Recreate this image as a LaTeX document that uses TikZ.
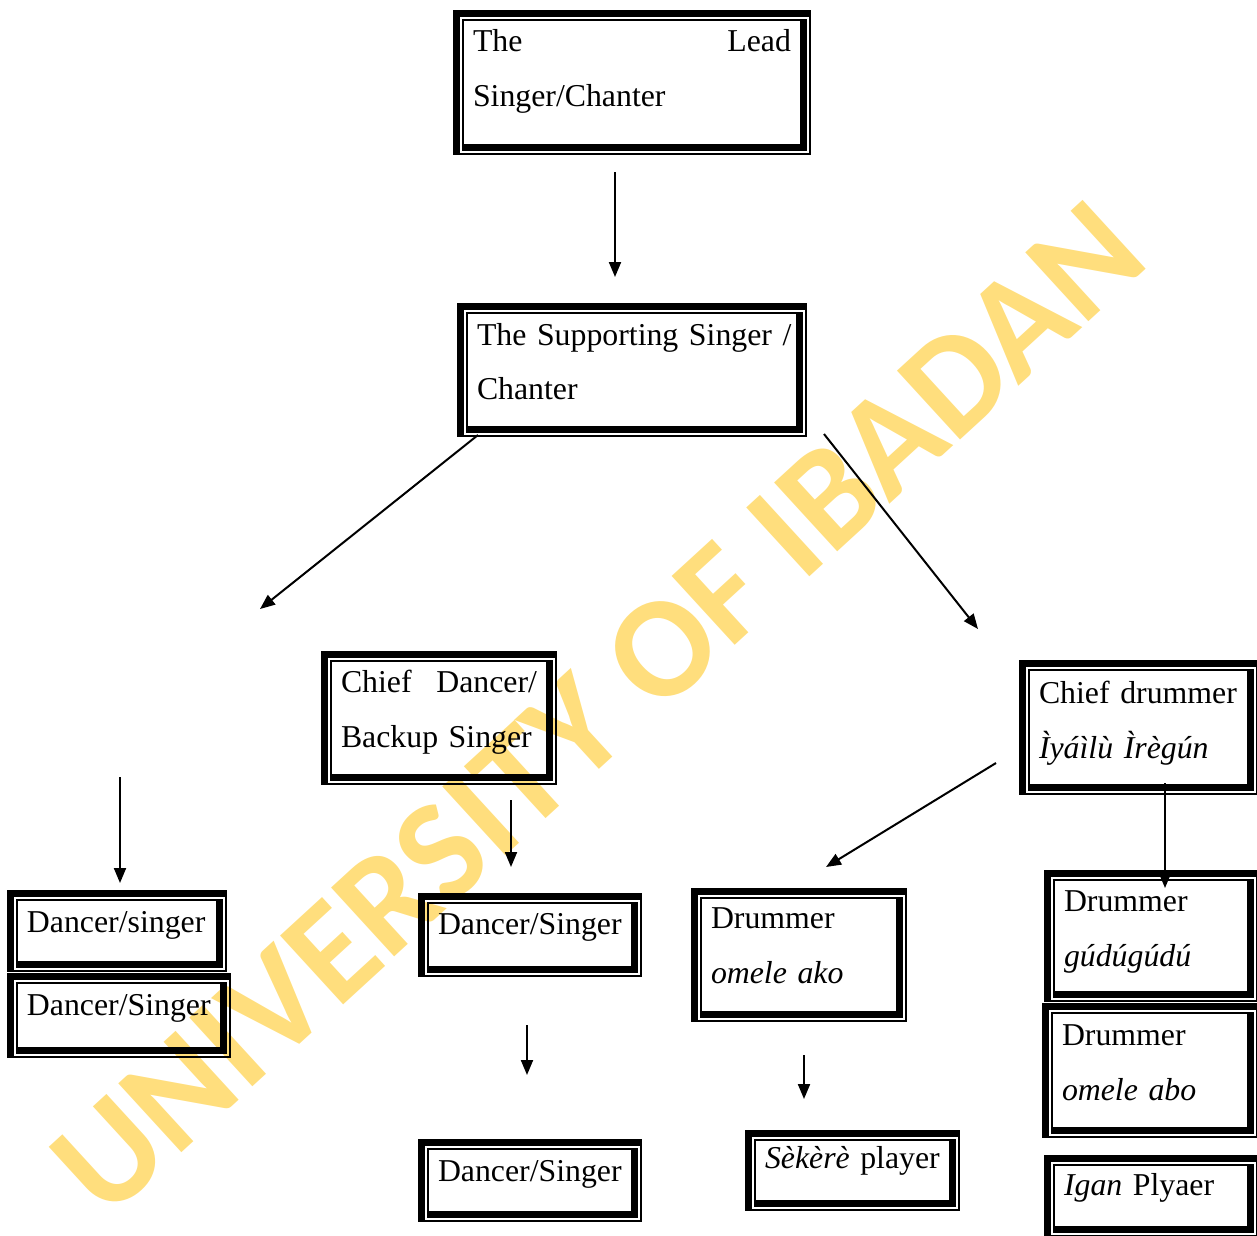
\documentclass[tikz,border=0pt]{standalone}
\usepackage{fontspec}
\setmainfont{Liberation Serif}
\newfontfamily\markfont{Carlito}
\usetikzlibrary{arrows.meta}
\definecolor{markyellow}{RGB}{255,222,125}

\begin{document}
\begin{tikzpicture}[x=0.02cm,y=-0.02cm,
  role/.style={anchor=north west,inner xsep=0.4cm,inner ysep=0pt,outer sep=0pt,
    align=left,font=\fontsize{18.1}{31.3}\selectfont},
  arr/.style={line width=0.04cm,-{Triangle[length=0.3cm,width=0.24cm]}}]
  \useasboundingbox (0,0) rectangle (1257,1235);
  % watermark
  \node[rotate=42.5,text=markyellow,font=\markfont\bfseries\fontsize{82}{82}\selectfont] (mark) at (598,708) {UNIVERSITY OF IBADAN};
  % singers
  \node[role,text width=6.36cm,text height=0.84cm,text depth=2.06cm] (lead) at (453,10) {The \hfill Lead\\Singer/Chanter};
  \node[role,text width=6.2cm,text height=0.84cm,text depth=1.84cm] (support) at (457,303) {\mbox{The Supporting Singer /}\\Chanter};
  % dancers
  \node[role,text width=3.92cm,text height=0.82cm,text depth=1.86cm] (chiefdancer) at (321,651) {Chief \hfill Dancer/\\Backup Singer};
  \node[role,text width=3.6cm,text height=0.84cm,text depth=0.8cm] (dancerA) at (7,890) {Dancer/singer};
  \node[role,text width=3.68cm,text height=0.84cm,text depth=0.86cm] (dancerB) at (7,973) {Dancer/Singer};
  \node[role,text width=3.68cm,text height=0.82cm,text depth=0.86cm] (dancerC) at (418,893) {Dancer/Singer};
  \node[role,text width=3.68cm,text height=0.84cm,text depth=0.82cm] (dancerD) at (418,1139) {Dancer/Singer};
  % drummers
  \node[role,text width=3.98cm,text height=0.86cm,text depth=1.84cm] (chiefdrum) at (1019,660) {Chief drummer\\\textit{Ìyáìlù Ìrègún}};
  \node[role,text width=3.52cm,text height=0.8cm,text depth=1.88cm] (omeleako) at (691,888) {Drummer\\\textit{omele ako}};
  \node[role,text width=3.48cm,text height=0.82cm,text depth=1.82cm] (gudugudu) at (1044,870) {Drummer\\\textit{gúdúgúdú}};
  \node[role,text width=3.52cm,text height=0.84cm,text depth=1.86cm] (omeleabo) at (1042,1003) {Drummer\\\textit{omele abo}};
  \node[role,text width=3.5cm,text height=0.76cm,text depth=0.86cm] (sekere) at (745,1130) {\textit{Sèkèrè} player};
  \node[role,text width=3.48cm,text height=0.8cm,text depth=0.84cm] (igan) at (1044,1155) {\textit{Igan} Plyaer};
  % thick-thin frames
  \foreach \n in {lead,support,chiefdancer,dancerA,dancerB,dancerC,dancerD,chiefdrum,omeleako,gudugudu,omeleabo,sekere,igan}{
    \draw[line width=0.034cm] ([shift={(0.85,0.85)}]\n.north west) rectangle ([shift={(-0.85,-0.85)}]\n.south east);
    \fill (\n.north west) rectangle ([shift={(0,7)}]\n.north east);
    \fill (\n.north west) rectangle ([shift={(7,0)}]\n.south west);
    \draw[line width=0.034cm] ([shift={(9.85,9.85)}]\n.north west) rectangle ([shift={(-4.55,-4.55)}]\n.south east);
    \fill ([shift={(9,-3.7)}]\n.south west) rectangle ([shift={(-3.7,-10.7)}]\n.south east);
    \fill ([shift={(-3.7,9)}]\n.north east) rectangle ([shift={(-10.7,-3.7)}]\n.south east);
  }
  % free arrow ends
  \coordinate (leadout) at (615,172);   \coordinate (supportin) at (615,277);
  \coordinate (leftout) at (478,435);   \coordinate (leftin) at (260,609);
  \coordinate (rightout) at (824,434);  \coordinate (rightin) at (978,629);
  \coordinate (colAout) at (120,777);   \coordinate (colAin) at (120,883);
  \coordinate (colCout) at (511,800);   \coordinate (colCin) at (511,867);
  \coordinate (drumout) at (996,763);   \coordinate (drumin) at (826,867);
  \coordinate (gudout) at (1165,783);   \coordinate (gudin) at (1165,888);
  \coordinate (colDout) at (527,1025);  \coordinate (colDin) at (527,1075);
  \coordinate (sekout) at (804,1055);   \coordinate (sekin) at (804,1099);
  \foreach \s/\t in {leadout/supportin,leftout/leftin,rightout/rightin,colAout/colAin,colCout/colCin,drumout/drumin,gudout/gudin,colDout/colDin,sekout/sekin}
    \draw[arr] (\s) -- (\t);
\end{tikzpicture}
\end{document}
